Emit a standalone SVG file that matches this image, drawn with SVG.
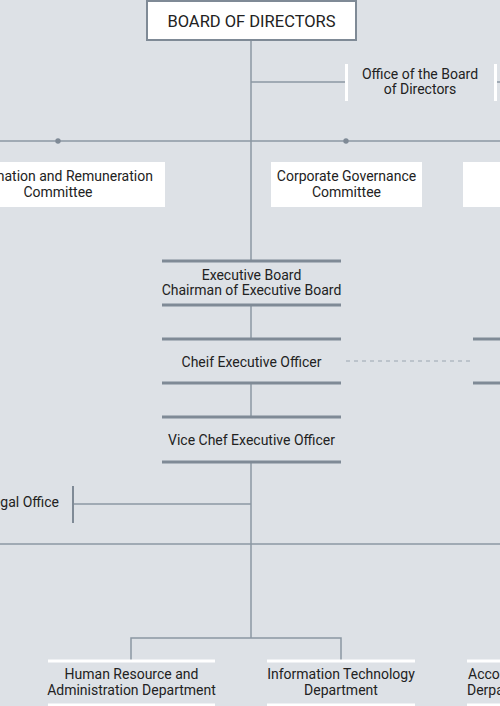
<svg xmlns="http://www.w3.org/2000/svg" width="500" height="706" viewBox="0 0 500 706">
<style>
text{font-family:Roboto,"Liberation Sans",sans-serif;font-size:14px;fill:#222;text-anchor:middle}
.ln{stroke:#8b97a3;stroke-width:1.5;fill:none}
.bar{stroke:#7f8a96;stroke-width:3}
.wbar{stroke:#fff;stroke-width:3}
.box{fill:#fff}
</style>
<rect width="500" height="706" fill="#dde1e6"/>
<g id="connectors">
<line class="ln" x1="251" y1="41" x2="251" y2="261"/>
<line class="ln" x1="251" y1="305" x2="251" y2="339"/>
<line class="ln" x1="251" y1="383" x2="251" y2="417"/>
<line class="ln" x1="251" y1="462" x2="251" y2="638"/>
<line class="ln" x1="251" y1="82" x2="345" y2="82"/>
<line class="ln" x1="497" y1="82" x2="500" y2="82"/>
<line class="ln" x1="0" y1="141" x2="500" y2="141"/>
<circle cx="58" cy="141" r="2.7" fill="#7f8a96"/>
<circle cx="346" cy="141" r="2.7" fill="#7f8a96"/>
<line x1="346" y1="361" x2="470" y2="361" stroke="#9aa5b0" stroke-width="1" stroke-dasharray="4,4"/>
<line class="ln" x1="73" y1="504" x2="251" y2="504"/>
<line class="ln" x1="0" y1="544" x2="500" y2="544"/>
<polyline class="ln" points="131,660 131,638 341,638 341,660"/>
</g>
<g id="board">
<rect x="147" y="1" width="209" height="39" fill="#fff" stroke="#7f8a96" stroke-width="2"/>
<text x="251.5" y="27" style="font-size:16.5px">BOARD OF DIRECTORS</text>
</g>
<g id="office-board">
<line class="wbar" x1="346.5" y1="64" x2="346.5" y2="101"/>
<line class="wbar" x1="495.5" y1="64" x2="495.5" y2="101"/>
<text x="420" y="79">Office of the Board</text>
<text x="420" y="94">of Directors</text>
</g>
<g id="nomination">
<rect class="box" x="-60" y="162" width="225" height="45"/>
<text x="58" y="181">Nomination and Remuneration</text>
<text x="58" y="197">Committee</text>
</g>
<g id="governance">
<rect class="box" x="271" y="162" width="151" height="45"/>
<text x="346.5" y="181">Corporate Governance</text>
<text x="346.5" y="197">Committee</text>
</g>
<g id="committee-right">
<rect class="box" x="463" y="162" width="40" height="45"/>
</g>
<g id="executive-board">
<line class="bar" x1="162" y1="261" x2="341" y2="261"/>
<line class="bar" x1="162" y1="305" x2="341" y2="305"/>
<text x="251.5" y="280">Executive Board</text>
<text x="251.5" y="295">Chairman of Executive Board</text>
</g>
<g id="ceo">
<line class="bar" x1="162" y1="339" x2="341" y2="339"/>
<line class="bar" x1="162" y1="383" x2="341" y2="383"/>
<text x="251.5" y="367">Cheif Executive Officer</text>
</g>
<g id="ceo-right">
<line class="bar" x1="473" y1="339" x2="500" y2="339"/>
<line class="bar" x1="473" y1="383" x2="500" y2="383"/>
</g>
<g id="vice-ceo">
<line class="bar" x1="162" y1="417" x2="341" y2="417"/>
<line class="bar" x1="162" y1="462" x2="341" y2="462"/>
<text x="251.5" y="445">Vice Chef Executive Officer</text>
</g>
<g id="legal">
<line stroke="#7f8a96" stroke-width="2" x1="73" y1="486" x2="73" y2="523"/>
<text x="59" y="507" style="text-anchor:end">Legal Office</text>
</g>
<g id="hr">
<line class="wbar" x1="48" y1="661" x2="215" y2="661"/>
<line class="wbar" x1="48" y1="705" x2="215" y2="705"/>
<text x="131.5" y="679">Human Resource and</text>
<text x="131.5" y="695">Administration Department</text>
</g>
<g id="it">
<line class="wbar" x1="267" y1="661" x2="415" y2="661"/>
<line class="wbar" x1="267" y1="705" x2="415" y2="705"/>
<text x="341" y="679">Information Technology</text>
<text x="341" y="695">Department</text>
</g>
<g id="accounting">
<line class="wbar" x1="467" y1="661" x2="500" y2="661"/>
<line class="wbar" x1="467" y1="705" x2="500" y2="705"/>
<text x="468" y="679" style="text-anchor:start">Accounting</text>
<text x="467" y="695" style="text-anchor:start">Derpartment</text>
</g>
</svg>
